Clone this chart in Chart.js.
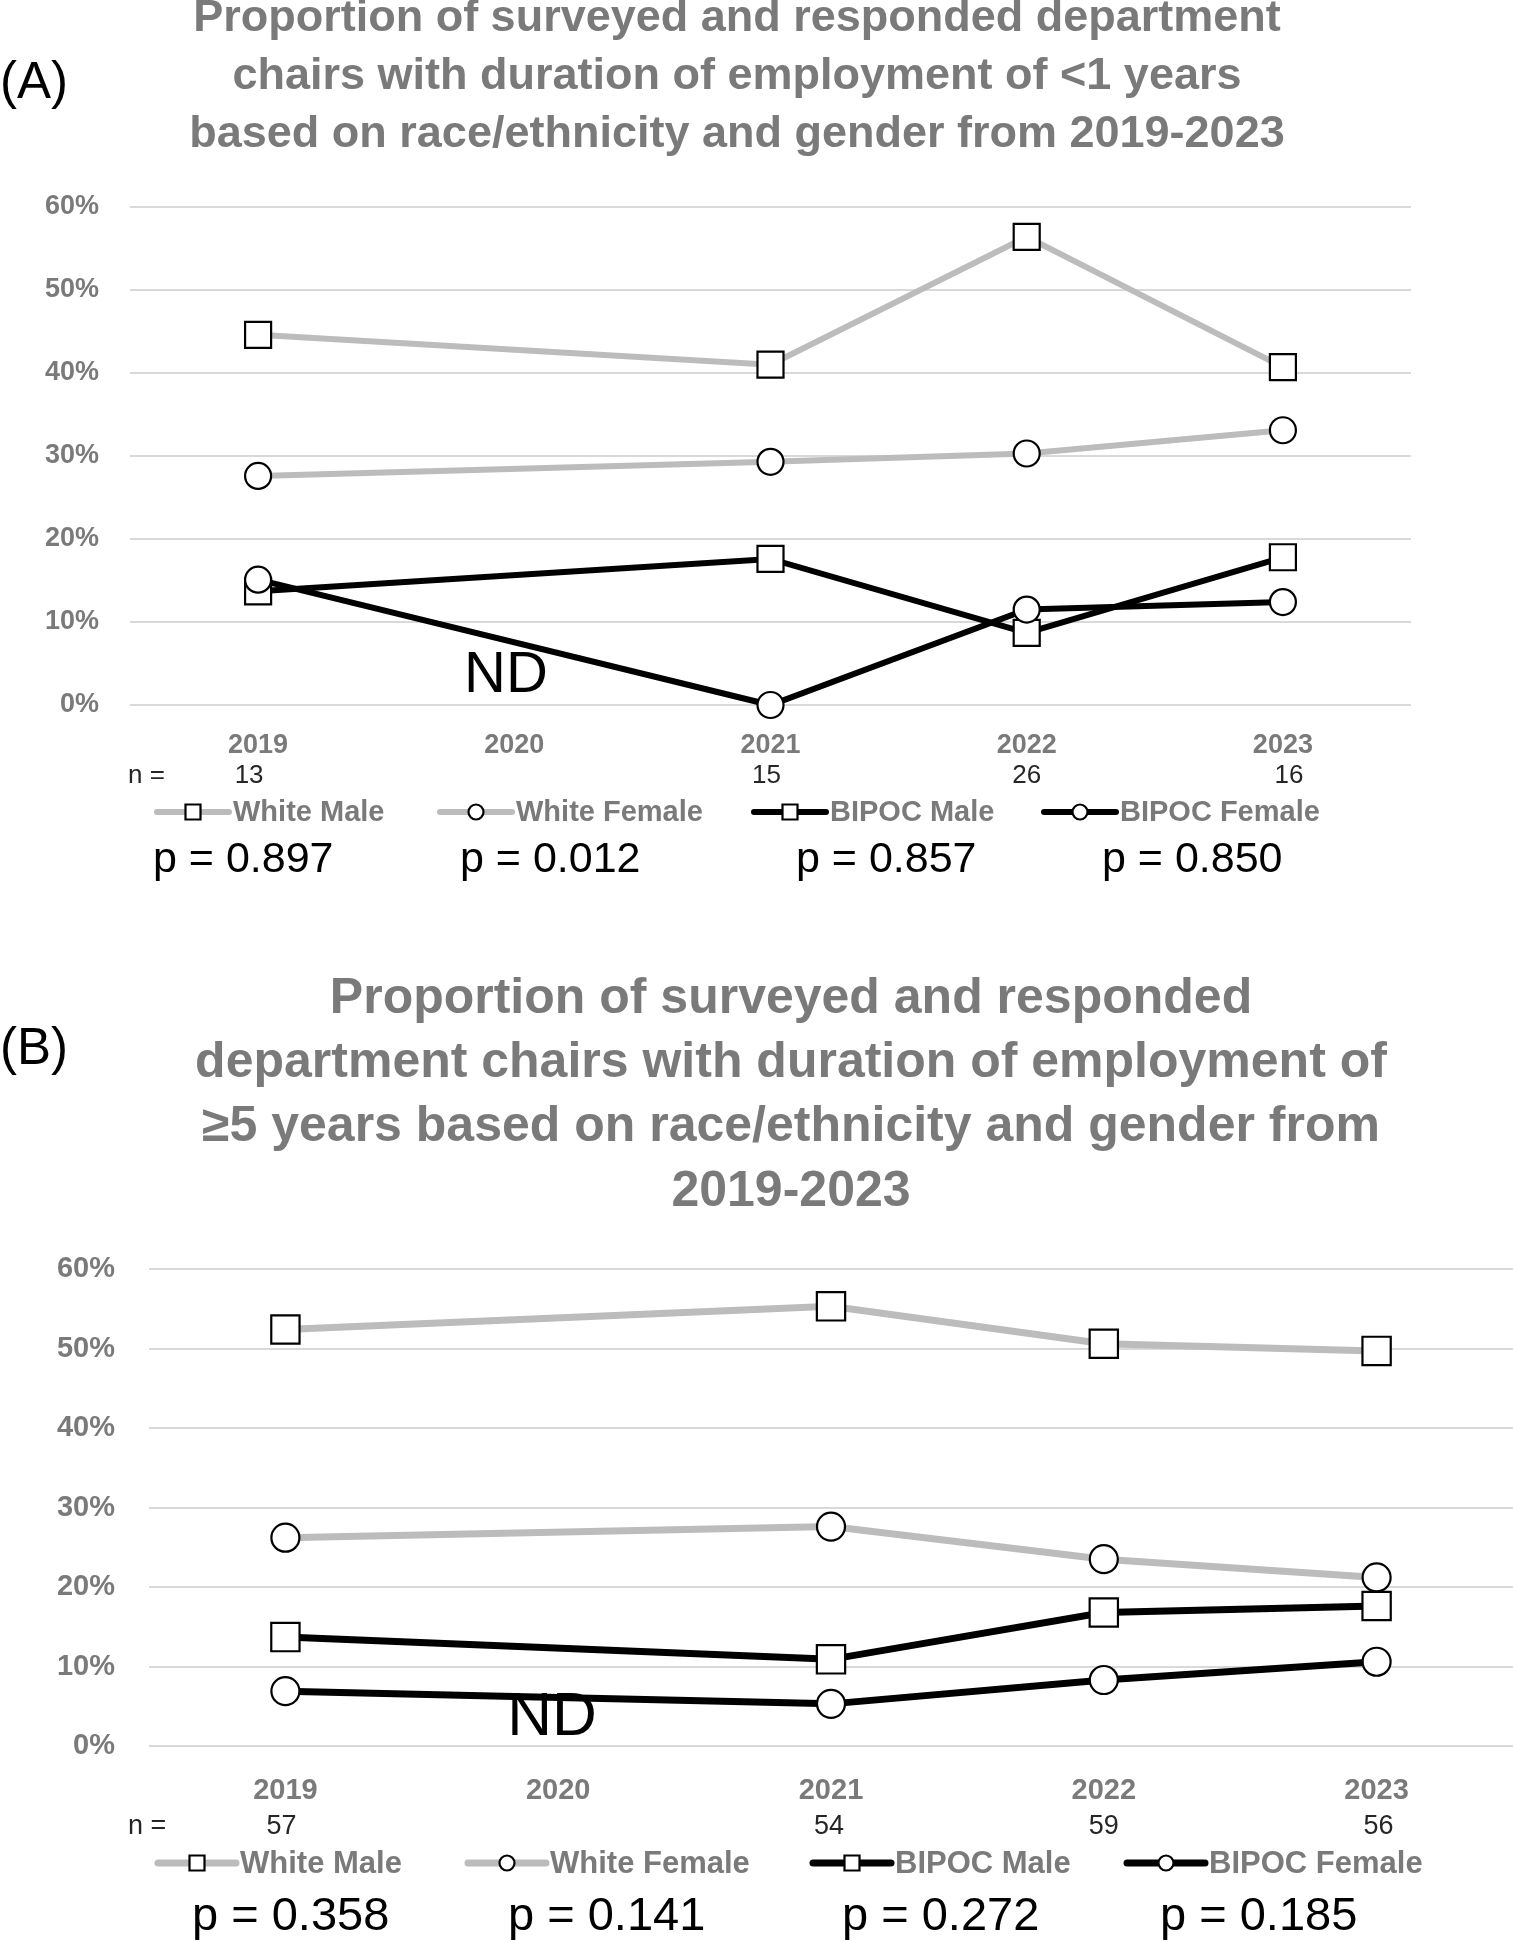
<!DOCTYPE html>
<html><head><meta charset="utf-8">
<script src="https://cdn.jsdelivr.net/npm/chart.js@4.4.1/dist/chart.umd.min.js"></script>
<style>
html,body{margin:0;padding:0;background:#fff;}
body{width:1513px;height:1941px;position:relative;overflow:hidden;}
canvas{position:absolute;left:0;display:block;}
</style></head>
<body>
<canvas id="chartA" width="1513" height="900" style="top:0px;width:1513px;height:900px"></canvas>
<canvas id="chartB" width="1513" height="1011" style="top:930px;width:1513px;height:1011px"></canvas>
<script>
// ---------- DATA ----------
const years = ['2019', '2020', '2021', '2022', '2023'];
const seriesNames = ['White Male', 'White Female', 'BIPOC Male', 'BIPOC Female'];
const yTicks = [0, 10, 20, 30, 40, 50, 60];

// (A) duration of employment < 1 year (%)
const aWhiteMale   = [44.6, null, 41.0, 56.4, 40.7];
const aWhiteFemale = [27.6, null, 29.3, 30.3, 33.1];
const aBipocMale   = [13.7, null, 17.6, 8.7, 17.8];
const aBipocFemale = [15.1, null, 0.0, 11.5, 12.4];
const nA = ['13', '', '15', '26', '16'];
const pA = ['p = 0.897', 'p = 0.012', 'p = 0.857', 'p = 0.850'];
const titleA = ['Proportion of surveyed and responded department',
                'chairs with duration of employment of <1 years',
                'based on race/ethnicity and gender from 2019-2023'];

// (B) duration of employment >= 5 years (%)
const bWhiteMale   = [52.4, null, 55.3, 50.6, 49.7];
const bWhiteFemale = [26.2, null, 27.6, 23.5, 21.2];
const bBipocMale   = [13.7, null, 10.9, 16.8, 17.6];
const bBipocFemale = [6.9, null, 5.3, 8.3, 10.6];
const nB = ['57', '', '54', '59', '56'];
const pB = ['p = 0.358', 'p = 0.141', 'p = 0.272', 'p = 0.185'];
const titleB = ['Proportion of surveyed and responded',
                'department chairs with duration of employment of',
                '\u22655 years based on race/ethnicity and gender from',
                '2019-2023'];

// ---------- STYLE ----------
const GRAY = '#bcbcbc';
const BLACK = '#000000';
const TXT_GRAY = '#7a7a7a';
const FONT = '"Liberation Sans", Arial, sans-serif';

const decor = {
  id: 'decor',
  afterDraw(chart, args, o) {
    const ctx = chart.ctx;
    ctx.save();
    // title
    ctx.fillStyle = TXT_GRAY;
    ctx.font = 'bold ' + o.titleSize + 'px ' + FONT;
    ctx.textAlign = 'center';
    ctx.textBaseline = 'middle';
    o.title.forEach((t, i) => ctx.fillText(t, o.titleX, o.titleY + i * o.titleGap));
    // panel label
    ctx.fillStyle = '#000';
    ctx.font = o.panelSize + 'px ' + FONT;
    ctx.textAlign = 'left';
    ctx.fillText(o.panel, 0, o.panelY);
    // n row
    const xs = chart.scales.x;
    ctx.fillStyle = '#262626';
    ctx.font = o.nSize + 'px ' + FONT;
    ctx.fillText('n =', 128, o.nY);
    ctx.textAlign = 'center';
    o.n.forEach((v, i) => { if (v) ctx.fillText(v, xs.getPixelForValue(i) + o.nShift[i], o.nY); });
    // legend
    chart.data.datasets.forEach((ds, i) => {
      const x0 = o.legendX[i], y = o.legendY, len = o.legendLen;
      ctx.strokeStyle = ds.borderColor;
      ctx.lineWidth = o.legendLine;
      ctx.lineCap = 'round';
      ctx.beginPath(); ctx.moveTo(x0, y); ctx.lineTo(x0 + len, y); ctx.stroke();
      ctx.fillStyle = '#fff';
      ctx.strokeStyle = '#000';
      ctx.lineWidth = 2.2;
      const cx = x0 + len / 2;
      ctx.beginPath();
      if (ds.pointStyle === 'rect') { ctx.rect(cx - 7.5, y - 7.5, 15, 15); }
      else { ctx.arc(cx, y, 7.5, 0, Math.PI * 2); }
      ctx.fill(); ctx.stroke();
      ctx.fillStyle = TXT_GRAY;
      ctx.font = 'bold ' + o.legendSize + 'px ' + FONT;
      ctx.textAlign = 'left';
      ctx.textBaseline = 'middle';
      ctx.fillText(ds.label, x0 + len + 4, y + 1);
    });
    // p values
    ctx.fillStyle = '#000';
    ctx.font = o.pSize + 'px ' + FONT;
    ctx.textAlign = 'left';
    ctx.textBaseline = 'alphabetic';
    o.p.forEach((t, i) => ctx.fillText(t, o.pX[i], o.pY));
    // ND
    ctx.font = o.ndSize + 'px ' + FONT;
    ctx.textAlign = 'center';
    ctx.textBaseline = 'middle';
    ctx.fillText('ND', o.ndX, o.ndY);
    ctx.restore();
  }
};

function makeDatasets(vals, sqR, cR, lw) {
  const colors = [GRAY, GRAY, BLACK, BLACK];
  const styles = ['rect', 'circle', 'rect', 'circle'];
  const orders = [4, 3, 2, 1];
  return vals.map((v, i) => ({
    label: seriesNames[i],
    data: v,
    borderColor: colors[i],
    backgroundColor: '#ffffff',
    borderWidth: lw,
    pointStyle: styles[i],
    pointRadius: styles[i] === 'rect' ? sqR : cR,
    pointBorderColor: '#000',
    pointBackgroundColor: '#fff',
    pointBorderWidth: 2.2,
    pointHoverRadius: styles[i] === 'rect' ? sqR : cR,
    tension: 0,
    spanGaps: true,
    clip: false,
    order: orders[i]
  }));
}

function makeChart(id, vals, cfg) {
  return new Chart(document.getElementById(id), {
    type: 'line',
    data: { labels: years, datasets: makeDatasets(vals, cfg.sqR, cfg.cR, cfg.lw) },
    options: {
      responsive: false,
      animation: false,
      devicePixelRatio: 1,
      layout: { padding: cfg.padding, autoPadding: false },
      plugins: { legend: { display: false }, tooltip: { enabled: false }, title: { display: false }, decor: cfg.decor },
      scales: {
        x: {
          type: 'category',
          offset: true,
          grid: { display: false },
          border: { display: false },
          ticks: { color: TXT_GRAY, font: { family: FONT, size: cfg.tickSize, weight: 'bold' }, padding: cfg.xPad, maxRotation: 0, autoSkip: false },
          afterFit: s => { s.height = 80; }
        },
        y: {
          min: 0, max: 60,
          afterBuildTicks: s => { s.ticks = yTicks.map(v => ({ value: v })); },
          grid: { color: '#d9d9d9', lineWidth: 2, drawTicks: false },
          border: { display: false },
          ticks: { color: TXT_GRAY, font: { family: FONT, size: cfg.tickSize, weight: 'bold' }, padding: cfg.yPad, callback: v => v + '%' },
          afterFit: s => { s.width = cfg.yWidth; }
        }
      }
    },
    plugins: [decor]
  });
}

makeChart('chartA', [aWhiteMale, aWhiteFemale, aBipocMale, aBipocFemale], {
  sqR: 18.4, cR: 13, lw: 6, tickSize: 27, xPad: 16, yPad: 31, yWidth: 130,
  padding: { top: 207, left: 0, right: 102, bottom: 115 },
  decor: {
    title: titleA, titleSize: 45, titleX: 737, titleY: 19, titleGap: 58,
    panel: '(A)', panelSize: 51, panelY: 84,
    n: nA, nShift: [-9, 0, -4, 0, 6], nSize: 26, nY: 776,
    legendX: [157, 440, 754, 1044], legendY: 812, legendLen: 72, legendLine: 6, legendSize: 29,
    p: pA, pX: [153, 460, 796, 1102], pY: 872, pSize: 43,
    ndX: 506, ndY: 676, ndSize: 58
  }
});

makeChart('chartB', [bWhiteMale, bWhiteFemale, bBipocMale, bBipocFemale], {
  sqR: 20, cR: 14, lw: 7, tickSize: 29, xPad: 20, yPad: 34, yWidth: 149,
  padding: { top: 339, left: 0, right: 0, bottom: 115 },
  decor: {
    title: titleB, titleSize: 50, titleX: 791, titleY: 69, titleGap: 64.3,
    panel: '(B)', panelSize: 51, panelY: 120,
    n: nB, nShift: [-4, 0, -2, 0, 2], nSize: 27, nY: 897,
    legendX: [158, 468, 813, 1127], legendY: 933, legendLen: 78, legendLine: 7, legendSize: 31,
    p: pB, pX: [192, 508, 842, 1160], pY: 1000, pSize: 47,
    ndX: 552, ndY: 788, ndSize: 62
  }
});
</script>
</body></html>
